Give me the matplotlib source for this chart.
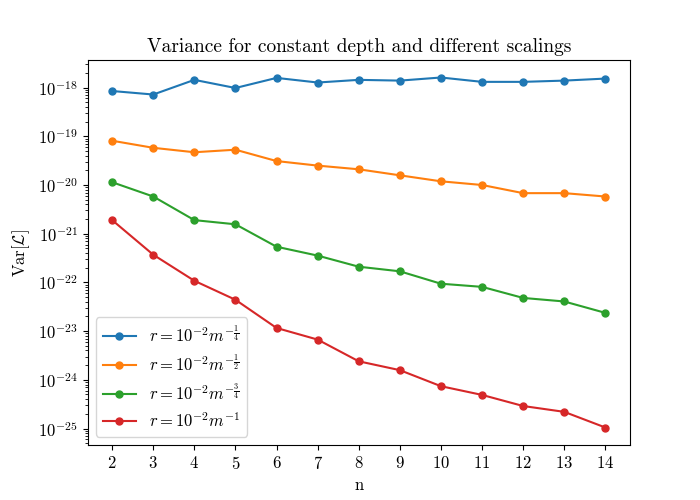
import matplotlib
matplotlib.use("Agg")
import matplotlib.pyplot as plt
import numpy as np

plt.rcParams['font.family'] = 'serif'
plt.rcParams['font.serif'] = ['cmr10', 'DejaVu Serif']
plt.rcParams['mathtext.fontset'] = 'cm'
plt.rcParams['axes.formatter.use_mathtext'] = True
plt.rcParams['font.size'] = 12

n = list(range(2, 15))

var_quarter = [8.5e-19, 7.2e-19, 1.44e-18, 9.8e-19, 1.58e-18, 1.27e-18, 1.44e-18,
               1.39e-18, 1.61e-18, 1.31e-18, 1.31e-18, 1.39e-18, 1.53e-18]
var_half = [8.1e-20, 5.8e-20, 4.7e-20, 5.3e-20, 3.1e-20, 2.5e-20, 2.1e-20,
            1.58e-20, 1.19e-20, 1.0e-20, 6.8e-21, 6.8e-21, 5.8e-21]
var_three_quarter = [1.14e-20, 5.8e-21, 1.9e-21, 1.56e-21, 5.4e-22, 3.55e-22, 2.1e-22,
                     1.69e-22, 9.4e-23, 8.1e-23, 4.8e-23, 4.06e-23, 2.37e-23]
var_one = [1.9e-21, 3.7e-22, 1.08e-22, 4.4e-23, 1.16e-23, 6.7e-24, 2.4e-24,
           1.58e-24, 7.4e-25, 4.9e-25, 2.9e-25, 2.2e-25, 1.05e-25]

labels = [r'$r = 10^{-2} m^{-\frac{1}{4}}$',
          r'$r = 10^{-2} m^{-\frac{1}{2}}$',
          r'$r = 10^{-2} m^{-\frac{3}{4}}$',
          r'$r = 10^{-2} m^{-1}$']

fig, ax = plt.subplots(figsize=(7, 5), dpi=100)

for vals, lab in zip([var_quarter, var_half, var_three_quarter, var_one], labels):
    ax.plot(n, vals, marker='o', markersize=5, label=lab)

ax.set_yscale('log')
ax.set_xticks(n)
ax.set_xlabel('n')
ax.set_ylabel(r'$\mathrm{Var}[\mathcal{L}]$')
ax.set_title('Variance for constant depth and different scalings', fontsize=14)
ax.legend(loc='lower left')

plt.savefig('out.png')
